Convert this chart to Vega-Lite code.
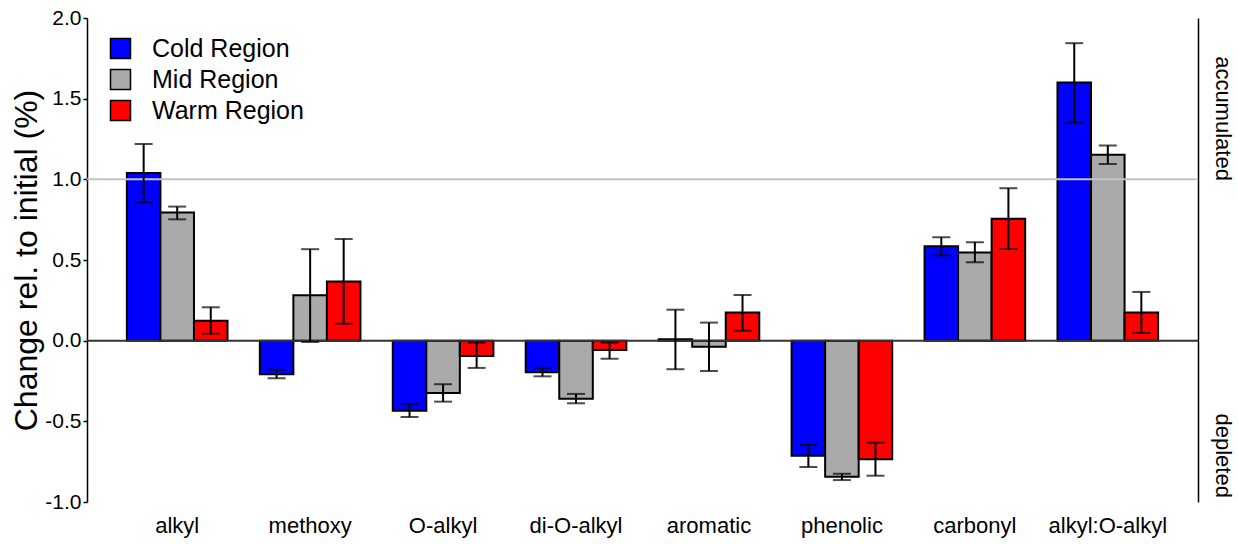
{
  "$schema": "https://vega.github.io/schema/vega-lite/v6.json",
  "width": 1111,
  "height": 484,
  "autosize": {"type": "none"},
  "padding": {"left": 87, "top": 18, "right": 40, "bottom": 42},
  "config": {"font": "Liberation Sans", "view": {"stroke": null}},
  "data": {
    "values": [
      {"cat": "alkyl", "region": "Cold Region", "value": 1.04, "lo": 0.858, "hi": 1.219},
      {"cat": "alkyl", "region": "Mid Region", "value": 0.794, "lo": 0.752, "hi": 0.831},
      {"cat": "alkyl", "region": "Warm Region", "value": 0.124, "lo": 0.043, "hi": 0.207},
      {"cat": "methoxy", "region": "Cold Region", "value": -0.208, "lo": -0.233, "hi": -0.18},
      {"cat": "methoxy", "region": "Mid Region", "value": 0.281, "lo": -0.008, "hi": 0.567},
      {"cat": "methoxy", "region": "Warm Region", "value": 0.366, "lo": 0.105, "hi": 0.63},
      {"cat": "O-alkyl", "region": "Cold Region", "value": -0.434, "lo": -0.473, "hi": -0.392},
      {"cat": "O-alkyl", "region": "Mid Region", "value": -0.324, "lo": -0.378, "hi": -0.27},
      {"cat": "O-alkyl", "region": "Warm Region", "value": -0.095, "lo": -0.169, "hi": -0.012},
      {"cat": "di-O-alkyl", "region": "Cold Region", "value": -0.196, "lo": -0.221, "hi": -0.169},
      {"cat": "di-O-alkyl", "region": "Mid Region", "value": -0.36, "lo": -0.388, "hi": -0.33},
      {"cat": "di-O-alkyl", "region": "Warm Region", "value": -0.058, "lo": -0.112, "hi": -0.012},
      {"cat": "aromatic", "region": "Cold Region", "value": 0.009, "lo": -0.177, "hi": 0.192},
      {"cat": "aromatic", "region": "Mid Region", "value": -0.037, "lo": -0.188, "hi": 0.112},
      {"cat": "aromatic", "region": "Warm Region", "value": 0.174, "lo": 0.062, "hi": 0.283},
      {"cat": "phenolic", "region": "Cold Region", "value": -0.713, "lo": -0.783, "hi": -0.645},
      {"cat": "phenolic", "region": "Mid Region", "value": -0.843, "lo": -0.864, "hi": -0.825},
      {"cat": "phenolic", "region": "Warm Region", "value": -0.735, "lo": -0.837, "hi": -0.632},
      {"cat": "carbonyl", "region": "Cold Region", "value": 0.585, "lo": 0.529, "hi": 0.641},
      {"cat": "carbonyl", "region": "Mid Region", "value": 0.546, "lo": 0.486, "hi": 0.61},
      {"cat": "carbonyl", "region": "Warm Region", "value": 0.756, "lo": 0.568, "hi": 0.945},
      {"cat": "alkyl:O-alkyl", "region": "Cold Region", "value": 1.6, "lo": 1.352, "hi": 1.844},
      {"cat": "alkyl:O-alkyl", "region": "Mid Region", "value": 1.153, "lo": 1.095, "hi": 1.209},
      {"cat": "alkyl:O-alkyl", "region": "Warm Region", "value": 0.174, "lo": 0.048, "hi": 0.302}
    ]
  },
  "resolve": {"axis": {"y": "independent"}},
  "layer": [
    {
      "mark": {"type": "bar", "stroke": "black", "strokeWidth": 2},
      "encoding": {
        "x": {
          "field": "cat", "type": "nominal",
          "sort": ["alkyl", "methoxy", "O-alkyl", "di-O-alkyl", "aromatic", "phenolic", "carbonyl", "alkyl:O-alkyl"],
          "scale": {"paddingInner": 0.243, "paddingOuter": 0.3},
          "axis": {"title": null, "labelAngle": 0, "labelFontSize": 22, "labelColor": "black", "ticks": false, "domain": false, "labelPadding": 13}
        },
        "xOffset": {"field": "region", "type": "nominal", "sort": ["Cold Region", "Mid Region", "Warm Region"], "scale": {"paddingInner": 0, "paddingOuter": 0}},
        "y": {
          "field": "value", "type": "quantitative",
          "scale": {"domain": [-1, 2], "nice": false, "zero": false},
          "axis": {
            "title": "Change rel. to initial (%)", "titleFontSize": 32, "titleFontWeight": "normal", "titleColor": "black", "titlePadding": 1,
            "values": [-1, -0.5, 0, 0.5, 1, 1.5, 2],
            "labelExpr": "(datum.value < 0 ? '-' : '') + format(abs(datum.value), '.1f')",
            "labelFontSize": 21, "labelColor": "black", "labelPadding": 2, "labelFlush": false, "labelOverlap": false,
            "tickSize": 4, "tickColor": "black", "tickWidth": 1.5,
            "domainColor": "black", "domainWidth": 1.5, "grid": false
          }
        },
        "y2": {"datum": 0},
        "fill": {
          "field": "region", "type": "nominal",
          "scale": {"domain": ["Cold Region", "Mid Region", "Warm Region"], "range": ["#0000ff", "#aaaaaa", "#ff0000"]},
          "legend": {
            "title": null, "orient": "none", "legendX": 21, "legendY": 18, "padding": 0,
            "symbolType": "square", "symbolSize": 400, "symbolStrokeColor": "black", "symbolStrokeWidth": 1.5, "symbolOpacity": 1,
            "labelFontSize": 25, "labelColor": "black", "labelOffset": 19, "rowPadding": 4
          }
        }
      }
    },
    {
      "data": {"values": [{"v": 1}]},
      "mark": {"type": "rule", "color": "#c4c4c4", "strokeWidth": 2},
      "encoding": {"y": {"field": "v", "type": "quantitative", "scale": {"domain": [-1, 2], "nice": false, "zero": false}, "axis": null}}
    },
    {
      "data": {"values": [{"v": 0}]},
      "mark": {"type": "rule", "color": "#333333", "strokeWidth": 2},
      "encoding": {
        "y": {
          "field": "v", "type": "quantitative",
          "scale": {"domain": [-1, 2], "nice": false, "zero": false},
          "axis": {
            "orient": "right", "title": null, "values": [1.38, -0.71],
            "labelExpr": "datum.value > 0 ? 'accumulated' : 'depleted'",
            "labelAngle": 90, "labelAlign": "center", "labelBaseline": "bottom",
            "labelFontSize": 22, "labelColor": "black", "labelPadding": 12, "labelFlush": false, "labelOverlap": false, "labelBound": false,
            "ticks": false, "tickSize": 0, "domainColor": "black", "domainWidth": 1.5, "grid": false
          }
        }
      }
    },
    {
      "mark": {"type": "rule", "color": "black", "strokeWidth": 2},
      "encoding": {
        "x": {"field": "cat", "type": "nominal", "sort": ["alkyl", "methoxy", "O-alkyl", "di-O-alkyl", "aromatic", "phenolic", "carbonyl", "alkyl:O-alkyl"]},
        "xOffset": {"field": "region", "type": "nominal", "sort": ["Cold Region", "Mid Region", "Warm Region"]},
        "y": {"field": "lo", "type": "quantitative", "scale": {"domain": [-1, 2], "nice": false, "zero": false}, "axis": null},
        "y2": {"field": "hi"}
      }
    },
    {
      "mark": {"type": "tick", "color": "black", "size": 18, "thickness": 2, "orient": "horizontal"},
      "encoding": {
        "x": {"field": "cat", "type": "nominal", "sort": ["alkyl", "methoxy", "O-alkyl", "di-O-alkyl", "aromatic", "phenolic", "carbonyl", "alkyl:O-alkyl"]},
        "xOffset": {"field": "region", "type": "nominal", "sort": ["Cold Region", "Mid Region", "Warm Region"]},
        "y": {"field": "lo", "type": "quantitative", "scale": {"domain": [-1, 2], "nice": false, "zero": false}, "axis": null}
      }
    },
    {
      "mark": {"type": "tick", "color": "black", "size": 18, "thickness": 2, "orient": "horizontal"},
      "encoding": {
        "x": {"field": "cat", "type": "nominal", "sort": ["alkyl", "methoxy", "O-alkyl", "di-O-alkyl", "aromatic", "phenolic", "carbonyl", "alkyl:O-alkyl"]},
        "xOffset": {"field": "region", "type": "nominal", "sort": ["Cold Region", "Mid Region", "Warm Region"]},
        "y": {"field": "hi", "type": "quantitative", "scale": {"domain": [-1, 2], "nice": false, "zero": false}, "axis": null}
      }
    }
  ]
}
